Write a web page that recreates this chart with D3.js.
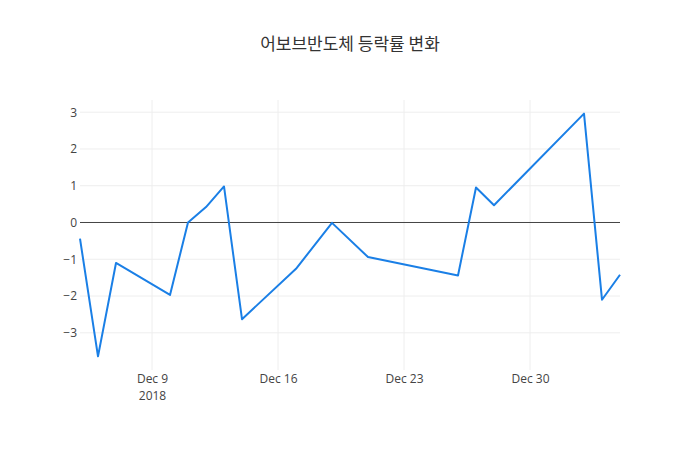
<!DOCTYPE html>
<html>
<head>
<meta charset="utf-8">
<script src="https://cdn.jsdelivr.net/npm/d3@7"></script>
<style>
  html, body { margin: 0; padding: 0; background: #fff; }
  svg { display: block; font-family: "Open Sans", "Noto Sans", sans-serif; }
</style>
</head>
<body>
<svg id="chart" width="700" height="450"></svg>
<script>
const titleText = "어보브반도체 등락률 변화";
const dates = ["2018-12-05","2018-12-06","2018-12-07","2018-12-10","2018-12-11","2018-12-12","2018-12-13","2018-12-14","2018-12-17","2018-12-19","2018-12-21","2018-12-26","2018-12-27","2018-12-28","2019-01-02","2019-01-03","2019-01-04"];
const changes = [-0.44, -3.64, -1.10, -1.97, 0.00, 0.42, 0.98, -2.63, -1.26, -0.01, -0.94, -1.44, 0.95, 0.47, 2.96, -2.10, -1.42];
const yTicks = [-3, -2, -1, 0, 1, 2, 3];
const xTickDates = ["2018-12-09","2018-12-16","2018-12-23","2018-12-30"];

const parse = d3.utcParse("%Y-%m-%d");
const data = dates.map((d, i) => ({ date: parse(d), value: changes[i] }));

const W = 700, H = 450;
const margin = { top: 100, right: 80, bottom: 80, left: 80 };
const svg = d3.select("#chart");

const x = d3.scaleUtc()
  .domain(d3.extent(data, d => d.date))
  .range([margin.left, W - margin.right]);

const [ymin, ymax] = d3.extent(changes);
const pad = (ymax - ymin) * 0.0563;
const y = d3.scaleLinear()
  .domain([ymin - pad, ymax + pad])
  .range([H - margin.bottom, margin.top]);

// Title
svg.append("text")
  .attr("x", W / 2).attr("y", 50)
  .attr("text-anchor", "middle")
  .attr("fill", "#333")
  .style("font-size", "17px")
  .style("font-family", "'Noto Sans CJK KR', 'Open Sans', sans-serif")
  .text(titleText);

// grid
const xt = xTickDates.map(parse);
svg.append("g").selectAll("line").data(xt).join("line")
  .attr("x1", d => x(d)).attr("x2", d => x(d))
  .attr("y1", margin.top).attr("y2", H - margin.bottom)
  .attr("stroke", "#eee").attr("stroke-width", 1);
svg.append("g").selectAll("line").data(yTicks.filter(t => t !== 0)).join("line")
  .attr("x1", margin.left).attr("x2", W - margin.right)
  .attr("y1", d => y(d)).attr("y2", d => y(d))
  .attr("stroke", "#eee").attr("stroke-width", 1);

// zero line
svg.append("line")
  .attr("x1", margin.left).attr("x2", W - margin.right)
  .attr("y1", y(0)).attr("y2", y(0))
  .attr("stroke", "#444").attr("stroke-width", 1);

// y axis
const yAxis = d3.axisLeft(y).tickValues(yTicks).tickSize(0).tickPadding(3)
  .tickFormat(d => d < 0 ? "\u2212" + Math.abs(d) : String(d));
const yg = svg.append("g").attr("transform", `translate(${margin.left},0)`).call(yAxis);
yg.select(".domain").remove();
yg.selectAll("text").attr("fill", "#444").style("font-size", "12px").style("font-family", "'Open Sans', sans-serif");

// x axis
const fmt = d3.utcFormat("%b %-d");
const xAxis = d3.axisBottom(x).tickValues(xt).tickSize(0).tickPadding(4).tickFormat(d => fmt(d));
const xg = svg.append("g").attr("transform", `translate(0,${H - margin.bottom})`).call(xAxis);
xg.select(".domain").remove();
xg.selectAll("text").attr("fill", "#444").style("font-size", "12px").style("font-family", "'Open Sans', sans-serif");
xg.selectAll(".tick").filter((d, i) => i === 0).append("text")
  .attr("y", 21).attr("dy", "0.71em")
  .attr("text-anchor", "middle")
  .attr("fill", "#444").style("font-size", "12px").style("font-family", "'Open Sans', sans-serif")
  .text(d3.utcFormat("%Y")(xt[0]));

// line
const line = d3.line().x(d => x(d.date)).y(d => y(d.value));
svg.append("path")
  .datum(data)
  .attr("fill", "none")
  .attr("stroke", "#1a7fe6")
  .attr("stroke-width", 2)
  .attr("stroke-linejoin", "round")
  .attr("d", line);
</script>
</body>
</html>
